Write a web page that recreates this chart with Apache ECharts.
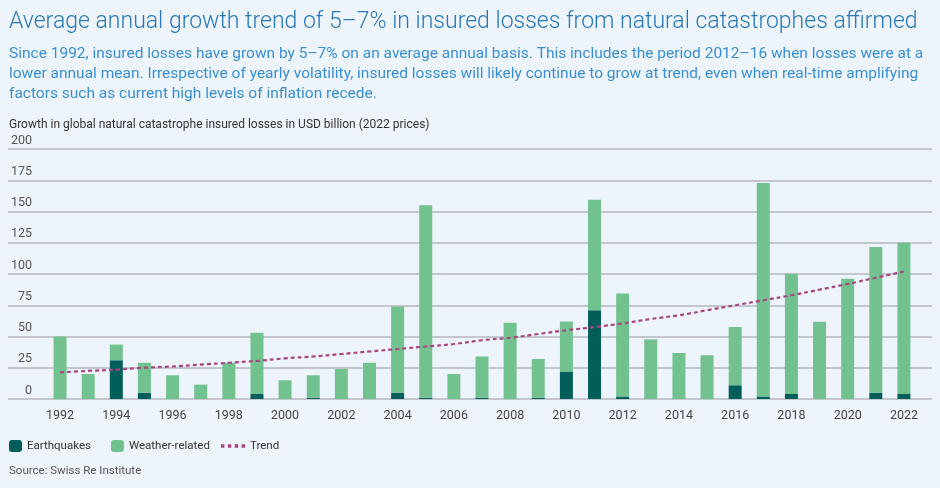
<!DOCTYPE html>
<html><head><meta charset="utf-8">
<script src="https://cdn.jsdelivr.net/npm/echarts@6/dist/echarts.min.js"></script>
<style>html,body{margin:0;padding:0;background:#eef4fb;}#c{width:940px;height:488px;}</style>
</head><body><div id="c"></div>
<script>
const years = ['1992','1993','1994','1995','1996','1997','1998','1999','2000','2001','2002','2003','2004','2005','2006','2007','2008','2009','2010','2011','2012','2013','2014','2015','2016','2017','2018','2019','2020','2021','2022'];
const earthquakes = [0,0,31,5,0,0,0,4,0,1,0,0,5,1,0,1,0,1,22,71,2,0,0,0,11,2,4,0,0,5,4];
const weather = [50,20,12.5,24,19,11.5,29,49,15,18,24,29,69,154,20,33,61,31,40,88.5,82.5,47.7,36.8,35,46.6,170.8,96.3,61.9,96.3,116.6,121.3];
const trend = [21.3,22.5,23.5,25,26,27.5,29,30.5,32.5,34,36,38,40,42,44,47,49,52,55,57.5,60.5,64,67,71,75,79,83,87.5,92,97,102];
const yTicks = [0,25,50,75,100,125,150,175,200];

const chart = echarts.init(document.getElementById('c'), null, {renderer:'canvas'});
const FONT = 'Roboto';
chart.setOption({
  backgroundColor:'#eef4fb',
  textStyle:{fontFamily:FONT},
  title:[
    {text:'Average annual growth trend of 5–7% in insured losses from natural catastrophes affirmed', left:4, top:6,
     textStyle:{fontFamily:FONT, fontWeight:300, fontSize:23, color:'#2a78b8'}},
    {text:'Since 1992, insured losses have grown by 5–7% on an average annual basis. This includes the period 2012–16 when losses were at a\nlower annual mean. Irrespective of yearly volatility, insured losses will likely continue to grow at trend, even when real-time amplifying\nfactors such as current high levels of inflation recede.',
     left:4, top:39, textStyle:{fontFamily:FONT, fontWeight:400, fontSize:15.5, lineHeight:20, color:'#3a8fd4'}},
    {text:'Growth in global natural catastrophe insured losses in USD billion (2022 prices)', left:4, top:114,
     textStyle:{fontFamily:FONT, fontWeight:400, fontSize:12, color:'#333'}},
    {text:'Source: Swiss Re Institute', left:4, top:460, textStyle:{fontFamily:FONT, fontWeight:400, fontSize:11.5, color:'#555'}}
  ],
  legend:[
    {left:4, top:435, itemWidth:13, itemHeight:12, itemGap:20,
     textStyle:{fontFamily:FONT, fontSize:11.5, color:'#333'},
     data:['Earthquakes','Weather-related']},
    {left:216, top:435, itemWidth:24, itemHeight:12,
     textStyle:{fontFamily:FONT, fontSize:11.5, color:'#333'},
     data:[{name:'Trend', icon:'path://M0,0h3v3h-3zM6,0h3v3h-3zM12,0h3v3h-3zM18,0h3v3h-3z'}]}
  ],
  grid:[
    {left:8, right:8, top:149, bottom:89},
    {left:46, right:22, top:149, bottom:89}
  ],
  xAxis:[
    {gridIndex:0, type:'value', min:0, max:1, show:false},
    {gridIndex:1, type:'category', data:years,
     axisLine:{show:false}, axisTick:{show:false},
     axisLabel:{interval:1, margin:10, fontFamily:FONT, fontSize:12.5, color:'#444'}}
  ],
  yAxis:[
    {gridIndex:0, type:'value', min:0, max:200, interval:25,
     axisLine:{show:false}, axisTick:{show:false},
     splitLine:{lineStyle:{color:'#b4b9be', width:1.5}},
     axisLabel:{inside:true, margin:24, align:'right', verticalAlign:'bottom', padding:[0,0,2,0],
       fontFamily:FONT, fontSize:12.5, color:'#555'}},
    {gridIndex:1, type:'value', min:0, max:200, interval:25, show:false, splitLine:{show:false}}
  ],
  series:[
    {name:'Earthquakes', type:'bar', stack:'t', xAxisIndex:1, yAxisIndex:1, data:earthquakes,
     barWidth:13, itemStyle:{color:'#015e5b'}},
    {name:'Weather-related', type:'bar', stack:'t', xAxisIndex:1, yAxisIndex:1, data:weather,
     barWidth:13, itemStyle:{color:'#72c28f'}},
    {name:'Trend', type:'line', xAxisIndex:1, yAxisIndex:1, data:trend, symbol:'none', smooth:true,
     lineStyle:{color:'#a8447f', width:2.2, type:[4,3]}, itemStyle:{color:'#a8447f'}, z:5}
  ]
});
</script></body></html>
